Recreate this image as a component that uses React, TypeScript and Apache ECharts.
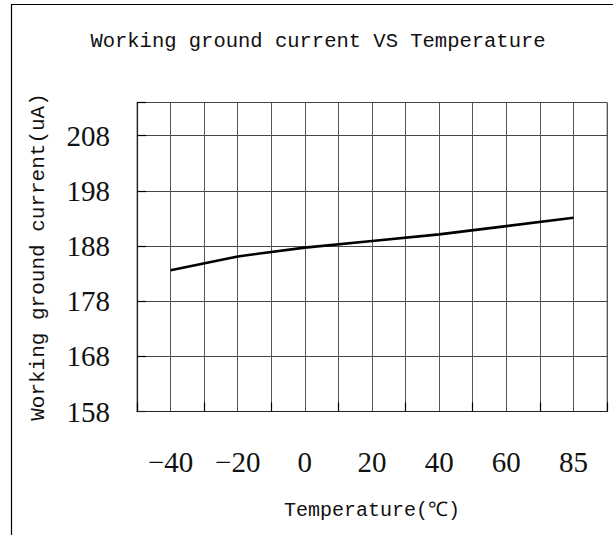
import React, { useEffect, useRef } from "react";
import * as echarts from "echarts";

const temperatures = ["−40", "−20", "0", "20", "40", "60", "85"];
const currents = [183.6, 186.1, 187.7, 188.9, 190.1, 191.6, 193.1];
const yMin = 158;
const yMax = 214;
const yStep = 10;
const gridColumns = 14;

const mono = "Liberation Mono";
const mono2 = "Courier New";
const mono3 = "Cousine";
const serif = "'Liberation Serif', 'DejaVu Serif', serif";

export default function App() {
  const ref = useRef<HTMLDivElement>(null);
  useEffect(() => {
    if (!ref.current) return;
    const chart = echarts.init(ref.current, undefined, { renderer: "svg" });
    chart.setOption({
      animation: false,
      backgroundColor: "#fff",
      title: {
        text: "Working ground current VS Temperature",
        left: 313,
        textAlign: "center",
        top: 26,
        textStyle: { fontFamily: mono, fontSize: 20.5, fontWeight: "normal", color: "#111" },
      },
      graphic: [
        {
          type: "rect",
          shape: { x: 11.5, y: 4.5, width: 700, height: 700 },
          style: { fill: "none", stroke: "#000", lineWidth: 1.2 },
          silent: true,
        },
      ],
      grid: {
        left: 137,
        top: 102.5,
        width: 470,
        height: 309,
        show: true,
        borderColor: "#888",
        borderWidth: 1,
        containLabel: false,
      },
      xAxis: [
        {
          type: "category",
          data: temperatures,
          boundaryGap: true,
          position: "bottom",
          axisLine: { show: true, lineStyle: { color: "#222", width: 1.2 } },
          axisTick: { show: true, inside: true, length: 9, lineStyle: { color: "#000", width: 1.2 } },
          splitLine: { show: false },
          axisLabel: { fontFamily: serif, fontSize: 29, color: "#111", margin: 36 },
          name: "Temperature(℃)",
          nameLocation: "middle",
          nameGap: 89,
          nameTextStyle: { fontFamily: mono3, fontSize: 20, color: "#111" },
          z: 5,
        },
        {
          type: "value",
          min: 0,
          max: gridColumns,
          interval: 1,
          position: "top",
          axisLine: { show: false },
          axisTick: { show: false },
          axisLabel: { show: false },
          splitLine: { show: true, lineStyle: { color: "#555", width: 1 } },
        },
      ],
      yAxis: {
        type: "value",
        min: yMin,
        max: yMax,
        interval: yStep,
        axisLine: { show: true, lineStyle: { color: "#222", width: 1.2 } },
        axisTick: { show: true, inside: true, length: 9, lineStyle: { color: "#000", width: 1.2 } },
        splitLine: { show: true, lineStyle: { color: "#444", width: 1 } },
        axisLabel: {
          fontFamily: serif,
          fontSize: 29,
          color: "#111",
          margin: 27,
          formatter: (v: number) => ((v - yMin) % yStep === 0 ? String(v) : ""),
        },
        name: "Working ground current(uA)",
        nameLocation: "middle",
        nameGap: 88,
        nameTextStyle: { fontFamily: mono2, fontSize: 21, color: "#111" },
      },
      series: [
        {
          type: "line",
          xAxisIndex: 0,
          data: currents,
          showSymbol: false,
          symbol: "none",
          lineStyle: { color: "#000", width: 2.6 },
          z: 10,
        },
      ],
    });
    return () => chart.dispose();
  }, []);
  return (
    <div
      ref={ref}
      style={{ position: "fixed", left: 0, top: 0, width: 613, height: 535, background: "#fff" }}
    />
  );
}
